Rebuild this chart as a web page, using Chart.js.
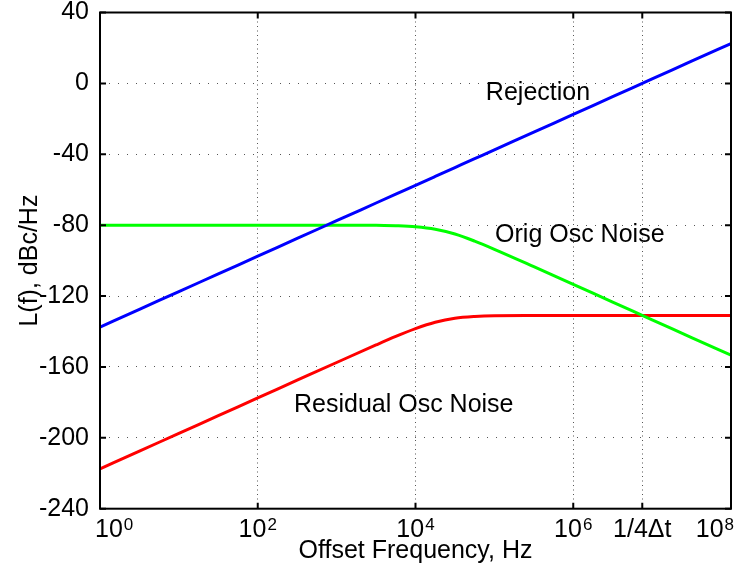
<!DOCTYPE html>
<html>
<head>
<meta charset="utf-8">
<script src="https://cdn.jsdelivr.net/npm/chart.js@4"></script>
<style>
  body { margin: 0; background: #fff; }
  #wrap { width: 743px; height: 574px; position: relative; }
</style>
</head>
<body>
<div id="wrap"><canvas id="noiseChart"></canvas></div>
<script>
const freqs = [1, 3.16, 10, 31.6, 100, 316, 1000, 3162, 5623, 1e4, 17783, 31623, 56234, 1e5, 3.16e5, 1e6, 3.16e6, 1e7, 3.16e7, 1e8];

// L(f) values, dBc/Hz
const rejection = [-137.5, -127.5, -117.5, -107.5, -97.5, -87.5, -77.5, -67.5, -62.5, -57.5, -52.5, -47.5, -42.5, -37.5, -27.5, -17.5, -7.5, 2.5, 12.5, 22.5];
const origNoise = [-80, -80, -80, -80, -80, -80, -80, -80, -80.3, -80.9, -82.3, -85.0, -89.0, -93.6, -103.4, -113.4, -123.4, -133.4, -143.4, -153.4];
const residualNoise = [-217.5, -207.5, -197.5, -187.5, -177.5, -167.5, -157.5, -147.6, -142.8, -138.4, -134.8, -132.5, -131.5, -131.1, -131.0, -131.0, -131.0, -131.0, -131.0, -131.0];

// axis ticks
const xTickValues = [1, 1e2, 1e4, 1e6, 7.5e6, 1e8];
const xTickLabels = ['10^0', '10^2', '10^4', '10^6', '1/4\u0394t', '10^8'];
const yTickValues = [40, 0, -40, -80, -120, -160, -200, -240];

// curve names written on the plot, anchored at [freq, dB]
const curveNames = ['Rejection', 'Orig Osc Noise', 'Residual Osc Noise'];
const curveNameAt = [[7.8e4, -9.4], [1.02e5, -89.3], [288, -185.4]];

const FONT = '"Liberation Sans", Arial, Helvetica, sans-serif';

function toPoints(vals) {
  return freqs.map((f, i) => ({ x: f, y: vals[i] }));
}

const overlay = {
  id: 'overlay',
  afterDraw(chart) {
    const { ctx, chartArea: a, scales: { x, y } } = chart;
    ctx.save();

    // inward ticks on all four sides
    ctx.strokeStyle = '#000';
    ctx.lineWidth = 2;
    ctx.beginPath();
    xTickValues.forEach(v => {
      const px = x.getPixelForValue(v);
      ctx.moveTo(px, a.bottom); ctx.lineTo(px, a.bottom - 6);
      ctx.moveTo(px, a.top); ctx.lineTo(px, a.top + 6);
    });
    yTickValues.forEach(v => {
      const py = y.getPixelForValue(v);
      ctx.moveTo(a.left, py); ctx.lineTo(a.left + 6, py);
      ctx.moveTo(a.right, py); ctx.lineTo(a.right - 6, py);
    });
    ctx.stroke();
    ctx.strokeRect(a.left, a.top, a.right - a.left, a.bottom - a.top);

    // x tick labels with superscripts
    ctx.fillStyle = '#000';
    ctx.textBaseline = 'alphabetic';
    ctx.textAlign = 'left';
    const baseY = 537;
    xTickValues.forEach((v, i) => {
      const [base, sup] = xTickLabels[i].split('^');
      ctx.font = '25px ' + FONT;
      const wb = ctx.measureText(base).width;
      ctx.font = '17px ' + FONT;
      const ws = sup ? ctx.measureText(sup).width + 1 : 0;
      const w = wb + ws;
      let left = x.getPixelForValue(v) - w / 2;
      if (left < a.left - 5) left = a.left - 5;
      if (left + w > a.right + 3) left = a.right + 3 - w;
      ctx.font = '25px ' + FONT;
      ctx.fillText(base, left, baseY);
      if (sup) {
        ctx.font = '17px ' + FONT;
        ctx.fillText(sup, left + wb + 1, baseY - 7);
      }
    });

    // curve names
    ctx.font = '25px ' + FONT;
    curveNames.forEach((name, i) => {
      const [f, db] = curveNameAt[i];
      ctx.fillText(name, x.getPixelForValue(f), y.getPixelForValue(db));
    });
    ctx.restore();
  }
};

const ctx = document.getElementById('noiseChart').getContext('2d');
new Chart(ctx, {
  type: 'line',
  data: {
    datasets: [
      { label: 'Rejection', data: toPoints(rejection), borderColor: '#0000ff' },
      { label: 'Orig Osc Noise', data: toPoints(origNoise), borderColor: '#00ff00' },
      { label: 'Residual Osc Noise', data: toPoints(residualNoise), borderColor: '#ff0000' }
    ]
  },
  options: {
    responsive: true,
    maintainAspectRatio: false,
    animation: false,
    layout: { padding: { top: 12.5, right: 12, left: 0, bottom: 0 } },
    elements: {
      point: { radius: 0 },
      line: { borderWidth: 3, cubicInterpolationMode: 'monotone', fill: false }
    },
    plugins: {
      legend: { display: false },
      tooltip: { enabled: false }
    },
    scales: {
      x: {
        type: 'logarithmic',
        min: 1,
        max: 1e8,
        afterBuildTicks: scale => { scale.ticks = xTickValues.map(v => ({ value: v })); },
        afterFit: scale => {
          scale.height = 65.3;
          scale.paddingLeft = 0;
          scale.paddingRight = 0;
        },
        ticks: { display: false },
        grid: { color: '#555', lineWidth: 1, drawTicks: false },
        border: { display: false, dash: [1, 3.5] },
        title: {
          display: true,
          text: 'Offset Frequency, Hz',
          color: '#000',
          font: { family: FONT, size: 25 },
          padding: { top: 0, bottom: 8 }
        }
      },
      y: {
        type: 'linear',
        min: -240,
        max: 40,
        afterBuildTicks: scale => { scale.ticks = yTickValues.map(v => ({ value: v })); },
        afterFit: scale => {
          scale.width = 100;
          scale.paddingTop = 0;
          scale.paddingBottom = 0;
        },
        ticks: { color: '#000', padding: 11, font: { family: FONT, size: 25 } },
        grid: { color: '#555', lineWidth: 1, drawTicks: false },
        border: { display: false, dash: [1, 8] },
        title: {
          display: true,
          text: 'L(f), dBc/Hz',
          color: '#000',
          font: { family: FONT, size: 25 },
          padding: { top: 15, bottom: 0 }
        }
      }
    }
  },
  plugins: [overlay]
});
</script>
</body>
</html>
